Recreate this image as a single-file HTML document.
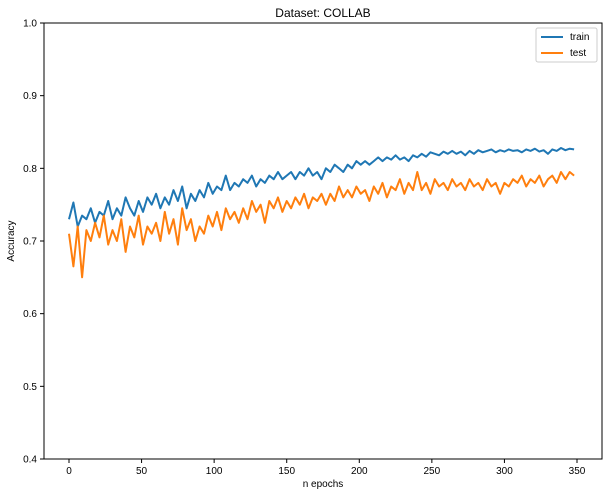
<!DOCTYPE html>
<html><head><meta charset="utf-8"><style>
body{margin:0;background:#fff;}
svg text{font-family:"Liberation Sans","DejaVu Sans",sans-serif;fill:#000;}
</style></head><body>
<svg id="chart" width="609" height="496" viewBox="0 0 609 496" xmlns="http://www.w3.org/2000/svg">
<rect width="609" height="496" fill="#fff"/>
<text x="323" y="17" font-size="12" text-anchor="middle">Dataset: COLLAB</text>
<g id="plot"></g>
<rect x="44" y="23" width="558" height="436" fill="none" stroke="#000" stroke-width="1"/>
<text x="323" y="487" font-size="10" text-anchor="middle">n epochs</text>
<text x="14" y="241" font-size="10" text-anchor="middle" transform="rotate(-90 14 241)">Accuracy</text>
<g>
<rect x="536" y="28" width="61" height="34" fill="#fff" stroke="#ccc" rx="2"/>
<line x1="541" y1="37" x2="563" y2="37" stroke="#1f77b4" stroke-width="2"/>
<text x="570" y="40" font-size="10">train</text>
<line x1="541" y1="53" x2="563" y2="53" stroke="#ff7f0e" stroke-width="2"/>
<text x="570" y="56" font-size="10">test</text>
</g>
</svg>
<script>
const xTicks=[0,50,100,150,200,250,300,350];
const yTicks=[0.4,0.5,0.6,0.7,0.8,0.9,1.0];
const yTickLabels=["0.4","0.5","0.6","0.7","0.8","0.9","1.0"];
const epochStep=3;
const trainAcc=[0.73,0.753,0.72,0.735,0.73,0.745,0.725,0.74,0.735,0.755,
0.73,0.745,0.735,0.76,0.745,0.735,0.755,0.74,0.76,0.75,
0.765,0.745,0.76,0.75,0.77,0.755,0.775,0.745,0.765,0.755,
0.77,0.76,0.78,0.765,0.775,0.77,0.79,0.77,0.78,0.775,
0.785,0.78,0.79,0.775,0.785,0.78,0.79,0.785,0.795,0.785,
0.79,0.795,0.785,0.795,0.79,0.8,0.79,0.795,0.785,0.8,
0.795,0.805,0.8,0.795,0.805,0.8,0.81,0.805,0.81,0.805,
0.81,0.815,0.81,0.815,0.812,0.818,0.812,0.815,0.81,0.818,
0.815,0.82,0.816,0.822,0.82,0.818,0.823,0.82,0.824,0.82,
0.823,0.818,0.824,0.82,0.825,0.822,0.824,0.826,0.822,0.825,
0.823,0.826,0.824,0.825,0.822,0.826,0.824,0.827,0.823,0.825,
0.82,0.826,0.824,0.828,0.825,0.827,0.826];
const testAcc=[0.71,0.665,0.72,0.65,0.715,0.7,0.725,0.705,0.735,0.695,
0.715,0.7,0.73,0.685,0.72,0.705,0.735,0.695,0.72,0.71,
0.725,0.7,0.74,0.71,0.73,0.695,0.745,0.715,0.73,0.7,
0.72,0.71,0.735,0.72,0.74,0.715,0.745,0.73,0.74,0.725,
0.745,0.73,0.755,0.74,0.75,0.725,0.755,0.745,0.76,0.74,
0.755,0.745,0.76,0.75,0.765,0.745,0.76,0.755,0.765,0.75,
0.765,0.755,0.775,0.76,0.77,0.76,0.775,0.765,0.77,0.755,
0.775,0.765,0.78,0.76,0.775,0.77,0.785,0.765,0.78,0.77,
0.795,0.77,0.78,0.765,0.785,0.775,0.78,0.77,0.785,0.775,
0.78,0.77,0.785,0.775,0.78,0.77,0.785,0.775,0.78,0.765,
0.78,0.775,0.785,0.78,0.79,0.775,0.785,0.78,0.79,0.775,
0.785,0.79,0.78,0.795,0.785,0.795,0.79];
const NS="http://www.w3.org/2000/svg";
const g=document.getElementById('plot');
function xs(v){return 69+(v/350)*508;}
function ys(v){return 459-(v-0.4)/0.6*436;}
function mk(t,a){const e=document.createElementNS(NS,t);for(const k in a)e.setAttribute(k,a[k]);g.appendChild(e);return e;}
xTicks.forEach(t=>{
  const l=mk('line',{x1:xs(t),x2:xs(t),y1:459,y2:463,stroke:'#000'});
  
  
  const tx=mk('text',{x:xs(t),y:474,'font-size':10,'text-anchor':'middle'});
  tx.textContent=t;
  
  
});
yTicks.forEach((t,i)=>{
  const l=mk('line',{x1:40,x2:44,y1:ys(t),y2:ys(t),stroke:'#000'});
  
  
  const tx=mk('text',{x:37,y:ys(t)+3.5,'font-size':10,'text-anchor':'end'});
  tx.textContent=yTickLabels[i];
  
  
});
function line(arr,color,name){
  const d=arr.map((v,i)=>(i?'L':'M')+xs(i*epochStep).toFixed(1)+' '+ys(v).toFixed(1)).join(' ');
  const p=mk('path',{d:d,fill:'none',stroke:color,'stroke-width':2,'stroke-linejoin':'round'});
  
  
}
line(trainAcc,'#1f77b4','train-line');
line(testAcc,'#ff7f0e','test-line');
</script>
</body></html>
